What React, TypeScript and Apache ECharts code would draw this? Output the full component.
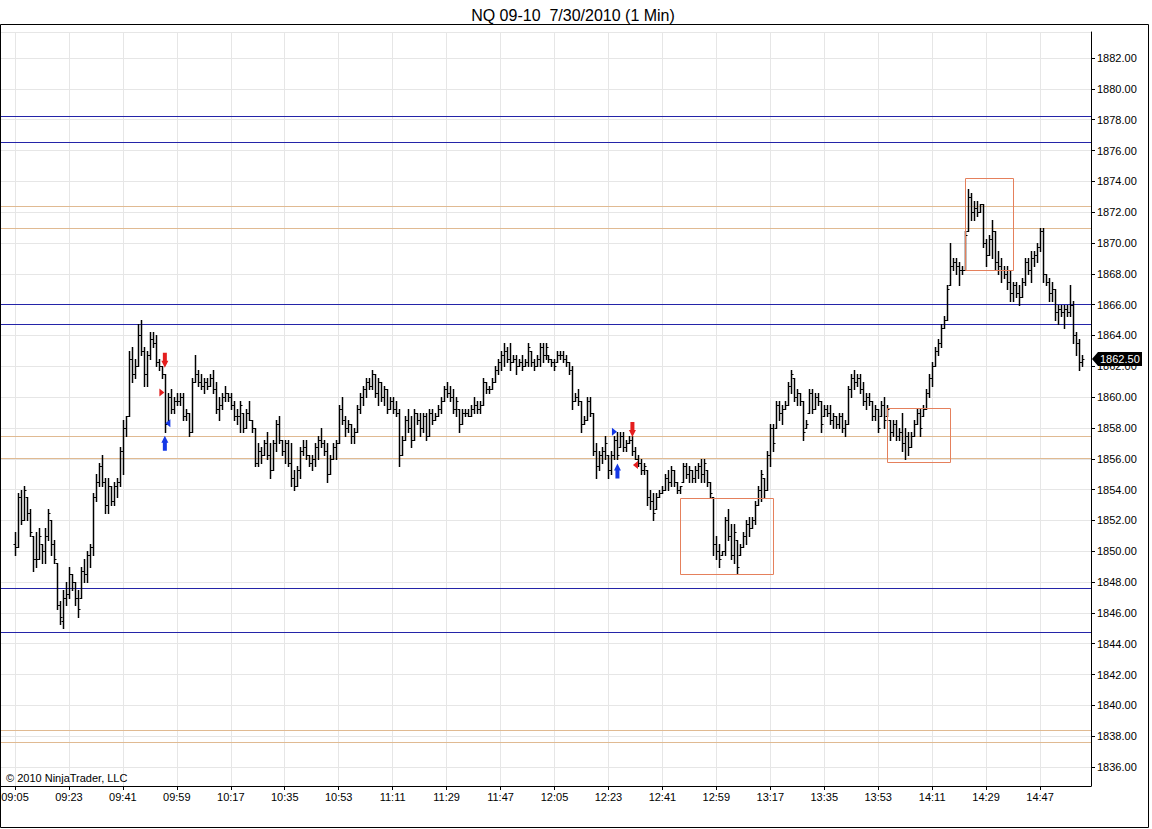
import React, { useEffect, useRef } from 'react';
import * as echarts from 'echarts';

const FONT = '"Liberation Sans", Arial, Helvetica, sans-serif';
const TITLE = 'NQ 09-10  7/30/2010 (1 Min)';
const COPYRIGHT = '\u00a9 2010 NinjaTrader, LLC';

// time axis (1-minute categories)
const AXIS_START_MIN = 9 * 60; // 09:00
const AXIS_COUNT = 365; // 09:00 .. 15:04
const FIRST_BAR = '09:05';
const tickLabels = [
  '09:05', '09:23', '09:41', '09:59', '10:17', '10:35', '10:53', '11:11', '11:29', '11:47',
  '12:05', '12:23', '12:41', '12:59', '13:17', '13:35', '13:53', '14:11', '14:29', '14:47',
];

// price axis range
const Y_MIN = 1834.77;
const Y_MAX = 1883.69;

// OHLC bars [open, high, low, close], one per minute
const bars09 = [
  [1850.5, 1851.25, 1849.75, 1850.25], [1850.25, 1853.75, 1850.25, 1853.5], [1853.5, 1854, 1851.75, 1852], [1852, 1854.25, 1852, 1854], [1853.5, 1853.5, 1852, 1852.5],
  [1852.5, 1852.75, 1851, 1851.25], [1851, 1851, 1848.75, 1849.5], [1849.5, 1851.25, 1849, 1849.5], [1849.5, 1851.5, 1849.5, 1851], [1850.5, 1850.5, 1849.25, 1850],
  [1850, 1851.5, 1849.25, 1851], [1851, 1852.75, 1850.75, 1852.5], [1852, 1852, 1849.75, 1850.5], [1850.5, 1850.75, 1849.25, 1849.5], [1849.25, 1849.25, 1846.25, 1846.5],
  [1846.5, 1846.75, 1845.25, 1845.75], [1845.5, 1847.5, 1845, 1847], [1847, 1848, 1846.5, 1847.25], [1847.25, 1849, 1847, 1848.5], [1848.5, 1848.5, 1847.5, 1848],
  [1848, 1848, 1846.5, 1847], [1847, 1847.5, 1845.75, 1846.25], [1847, 1849, 1847, 1848.75], [1848.75, 1849.5, 1848, 1848.5], [1848.5, 1850, 1848, 1849.75],
  [1849.75, 1850.5, 1849, 1850.25], [1850.25, 1853.75, 1849.75, 1853.5], [1853.5, 1855, 1853.25, 1854.5], [1854.5, 1855.75, 1854.25, 1855.5], [1855.5, 1856.25, 1854.25, 1854.5],
  [1854.5, 1854.75, 1852.5, 1853], [1853, 1854.75, 1852.5, 1854.25], [1854.25, 1854.25, 1853, 1853.25], [1853.25, 1854.5, 1853, 1854.25], [1854.25, 1854.75, 1853.5, 1854.5],
  [1854.5, 1856.75, 1854.25, 1856.5], [1856.5, 1858.5, 1855, 1858], [1858, 1858.75, 1857.5, 1858.75], [1858.75, 1863, 1858.75, 1862.5], [1862.5, 1863.25, 1861, 1861.5],
  [1861.5, 1862.5, 1861.25, 1862], [1862, 1864.75, 1862, 1864], [1864, 1865, 1862.75, 1863], [1863, 1863.25, 1860.75, 1861.5], [1861.5, 1863, 1860.75, 1862.75],
  [1862.75, 1864.25, 1862.5, 1863.75], [1863.75, 1864.25, 1863.25, 1863.5], [1863.5, 1864, 1862, 1862.25], [1862.25, 1862.5, 1861.75, 1862], [1862, 1862, 1861.25, 1861.5],
  [1861.5, 1861.5, 1857.75, 1858.25], [1858.25, 1860.25, 1858.25, 1860], [1860, 1860.5, 1859, 1859.25], [1859.25, 1860, 1859, 1859.75], [1859.75, 1860.25, 1859.5, 1859.75],
];
const bars10 = [
  [1859.75, 1860.25, 1859.5, 1860], [1860, 1860.25, 1858.5, 1858.75], [1858.75, 1859.25, 1858.5, 1859], [1859, 1859, 1857.5, 1857.75], [1857.75, 1861.25, 1857.75, 1861],
  [1861, 1862.75, 1861, 1861.5], [1861.5, 1861.75, 1860.75, 1861], [1861, 1861.5, 1860.5, 1860.75], [1860.75, 1861.25, 1860.25, 1861], [1861, 1861.25, 1860.5, 1860.75],
  [1860.75, 1861.5, 1860.75, 1861.25], [1861.25, 1861.75, 1860.25, 1860.5], [1860.5, 1861, 1859, 1859.25], [1859.25, 1860, 1858.5, 1859.5], [1859.5, 1860.25, 1859.25, 1860],
  [1860, 1860.75, 1859.75, 1860.25], [1860.25, 1860.25, 1859.75, 1860], [1860, 1860.25, 1859.25, 1859.5], [1859.5, 1859.75, 1858.5, 1858.75], [1858.75, 1859.25, 1858.25, 1858.75],
  [1858.75, 1859.75, 1857.75, 1859.5], [1859, 1859, 1857.75, 1858], [1858, 1859.25, 1858, 1859], [1859, 1859.75, 1858.5, 1858.5], [1858.5, 1858.5, 1857.75, 1858],
  [1858, 1858, 1855.5, 1855.75], [1855.75, 1857, 1855.5, 1856.5], [1856.5, 1856.75, 1855.75, 1856.25], [1856.25, 1857.25, 1856.25, 1857], [1857, 1857.75, 1856, 1856.25],
  [1856.25, 1857, 1854.75, 1855.25], [1855.25, 1857.25, 1855.25, 1857], [1857, 1858.5, 1856.5, 1858.25], [1858.25, 1858.75, 1857, 1857.25], [1857.25, 1857.25, 1856.25, 1856.5],
  [1856.5, 1857.25, 1855.75, 1857], [1857, 1857.25, 1855.5, 1855.75], [1855.75, 1857, 1854.25, 1854.75], [1854.75, 1855.25, 1854, 1854.25], [1854.25, 1855.5, 1854.25, 1855.25],
  [1855.25, 1856.75, 1854.75, 1856.5], [1856.5, 1857.25, 1856.25, 1856.75], [1856.75, 1857.25, 1856, 1856.25], [1856.25, 1856.25, 1855.5, 1855.75], [1855.75, 1856.25, 1855.25, 1856],
  [1856, 1857, 1855.5, 1856.75], [1856.75, 1857.5, 1856, 1857.25], [1857.25, 1858, 1856.75, 1857], [1857, 1857.25, 1856.25, 1856.5], [1856.5, 1857, 1854.5, 1855],
  [1855, 1856.25, 1855, 1856], [1856, 1857, 1856, 1856.75], [1856.75, 1857.25, 1856, 1857], [1857, 1859.5, 1857, 1859.25], [1859.25, 1860, 1858.25, 1858.5],
  [1858.5, 1858.75, 1857.5, 1858], [1858, 1858.5, 1857.75, 1858.25], [1858.25, 1858.25, 1857, 1857.5], [1857.5, 1858, 1857, 1857.75], [1857.75, 1859.5, 1857.75, 1859.25],
];
const bars11 = [
  [1859.25, 1860.25, 1859, 1860], [1860, 1860.75, 1859.5, 1860.5], [1860.5, 1861.25, 1860, 1861], [1861, 1861.25, 1860.5, 1860.75], [1860.75, 1861.75, 1860.5, 1861.5],
  [1861.5, 1861.5, 1860, 1860.25], [1860.25, 1861.25, 1859.5, 1861], [1861, 1861, 1859.75, 1860], [1860, 1860.75, 1859.5, 1860.5], [1860.5, 1860.5, 1859, 1859.25],
  [1859.25, 1860, 1859.25, 1859.75], [1859.75, 1860, 1859, 1859.25], [1859.25, 1859.75, 1858.75, 1859], [1859, 1859.25, 1855.5, 1856.25], [1856.25, 1857.5, 1856.25, 1857.25],
  [1857.25, 1858.75, 1857.25, 1858.5], [1858.5, 1859.25, 1857.75, 1858], [1858, 1858.75, 1856.75, 1857.25], [1857.25, 1859.25, 1857.25, 1859], [1859, 1859, 1858.25, 1858.5],
  [1858.5, 1859, 1857.5, 1858], [1858, 1859, 1857.75, 1858.75], [1858.75, 1859, 1857.25, 1857.5], [1857.5, 1859.25, 1857.5, 1859], [1859, 1859.25, 1858.25, 1858.5],
  [1858.5, 1859, 1858.5, 1858.75], [1858.75, 1859.5, 1858.75, 1859.25], [1859.25, 1860, 1859, 1859.75], [1859.75, 1860.75, 1859.75, 1860.5], [1860.5, 1861, 1860, 1860.25],
  [1860.25, 1860.75, 1859.75, 1860], [1860, 1860.5, 1859, 1859.25], [1859.25, 1860, 1858.75, 1859.75], [1859.25, 1859.25, 1857.75, 1858.25], [1858.25, 1859.25, 1858.25, 1859],
  [1859, 1859.25, 1858.75, 1859], [1859, 1859.25, 1858.75, 1858.75], [1858.75, 1859.5, 1858.75, 1859.25], [1859.25, 1860, 1859, 1859.5], [1859.5, 1859.75, 1859, 1859.25],
  [1859.25, 1859.75, 1859, 1859.5], [1859.5, 1861.25, 1859.5, 1861], [1861, 1861, 1860.25, 1860.5], [1860.5, 1860.75, 1860.25, 1860.5], [1860.5, 1861.25, 1860.5, 1861],
  [1861, 1862, 1861, 1861.75], [1861.75, 1862.5, 1861.5, 1862.25], [1862.25, 1863, 1861.75, 1862.75], [1862.75, 1863.5, 1862, 1863], [1863, 1863.25, 1862.25, 1862.5],
  [1862.5, 1863.5, 1861.75, 1862.25], [1862.25, 1862.75, 1862.25, 1862.5], [1862.5, 1862.75, 1861.5, 1862], [1862, 1862.5, 1862, 1862.25], [1862.25, 1862.75, 1861.75, 1862],
  [1862, 1862.5, 1862, 1862.25], [1862.25, 1863.5, 1862, 1863.25], [1863, 1863, 1862, 1862.25], [1862.25, 1862.5, 1861.75, 1862], [1862, 1862.75, 1862, 1862.5],
];
const bars12 = [
  [1862.5, 1863.5, 1862, 1863.25], [1863.25, 1863.5, 1862.25, 1862.75], [1862.75, 1863.5, 1862.5, 1863.25], [1862.75, 1862.75, 1862.25, 1862.5], [1862.5, 1862.5, 1862, 1862.25],
  [1862.25, 1862.5, 1861.75, 1862], [1862.25, 1863, 1862.25, 1862.75], [1862.75, 1863, 1862.5, 1862.75], [1862.75, 1863, 1862.25, 1862.5], [1862.5, 1862.75, 1862, 1862.25],
  [1862.25, 1862.25, 1861.5, 1861.75], [1861.75, 1862, 1859.25, 1859.75], [1859.75, 1860.25, 1859.75, 1860], [1860, 1860.5, 1859.5, 1859.75], [1859.75, 1859.75, 1857.75, 1858.25],
  [1858.25, 1858.75, 1858.25, 1858.5], [1858.5, 1860, 1858.5, 1859.75], [1859.75, 1860, 1858.75, 1859], [1859, 1859, 1856.25, 1856.5], [1856.5, 1857, 1854.75, 1855.5],
  [1855.5, 1856.5, 1855.25, 1856.25], [1856.25, 1856.75, 1855.75, 1856.5], [1856.5, 1857.5, 1856, 1857], [1856.25, 1856.25, 1854.75, 1855.25], [1855.25, 1856.5, 1855, 1856.25],
  [1856.25, 1857.5, 1856, 1857.25], [1857.25, 1857.75, 1856, 1856.25], [1856.75, 1857.75, 1856.75, 1857.5], [1857.5, 1857.75, 1856.5, 1856.75], [1856.75, 1857.25, 1856.5, 1857],
  [1857, 1857.5, 1857, 1857.25], [1857.25, 1857.5, 1856.25, 1856.5], [1856.5, 1856.75, 1856, 1856], [1856, 1856.25, 1855.5, 1855.75], [1855.75, 1856, 1855, 1855.25],
  [1855.25, 1855.75, 1855, 1855.5], [1855.25, 1855.25, 1853, 1853.5], [1853.5, 1854, 1852.75, 1853.25], [1853.25, 1853.75, 1852, 1852.5], [1852.75, 1853.75, 1852.75, 1853.5],
  [1853.5, 1854, 1853.5, 1853.75], [1853.75, 1854.25, 1853.75, 1854], [1854, 1855, 1854, 1854.75], [1854.75, 1855.25, 1854, 1854.5], [1854.5, 1855.5, 1854.25, 1855.25],
  [1855.25, 1855.25, 1854.25, 1854.5], [1854.5, 1854.5, 1853.75, 1854], [1854, 1854.25, 1853.75, 1854.25], [1854.5, 1855.75, 1854.5, 1855.5], [1855.5, 1855.75, 1854.75, 1855],
  [1855, 1855.5, 1854.5, 1855.25], [1855.25, 1855.25, 1854.5, 1854.75], [1854.75, 1855.5, 1854.5, 1855.25], [1855.25, 1855.75, 1854.75, 1855.5], [1855.5, 1856, 1854.5, 1855],
  [1855, 1856, 1854.5, 1855.75], [1855.25, 1855.25, 1854.25, 1854.5], [1854.5, 1854.5, 1853.5, 1853.75], [1853.5, 1853.5, 1849.75, 1850.5], [1850.5, 1851, 1849.5, 1850],
];
const bars13 = [
  [1850, 1850.5, 1849, 1849.5], [1849.75, 1850, 1849.75, 1850], [1850, 1852.25, 1849.75, 1852], [1852, 1852.75, 1850.75, 1851], [1851, 1851.75, 1849.5, 1849.75],
  [1849.75, 1851.75, 1849.25, 1851.25], [1850.75, 1850.75, 1848.5, 1849], [1849.75, 1850.5, 1849.75, 1850.25], [1850.25, 1851.25, 1850.25, 1851], [1851, 1852, 1850.5, 1851.75],
  [1851.75, 1852.25, 1851, 1851.5], [1851.5, 1852.25, 1851.5, 1852], [1852, 1853.25, 1851.75, 1853], [1853, 1854.25, 1853, 1854], [1854, 1855.25, 1853.25, 1855],
  [1854.75, 1854.75, 1853.5, 1854], [1854, 1856.5, 1854, 1856.25], [1856.25, 1858.25, 1855.5, 1858], [1858, 1858.25, 1856.5, 1857], [1858, 1859.75, 1858, 1859.5],
  [1859.5, 1859.75, 1858.5, 1859], [1859, 1859.5, 1858.25, 1859.25], [1859.25, 1859.75, 1859.25, 1859.5], [1859.5, 1861, 1859.5, 1860.75], [1860.75, 1861.75, 1860.25, 1861.5],
  [1861.25, 1861.25, 1859.75, 1860], [1860, 1860.5, 1859.5, 1860.25], [1860.25, 1860.25, 1859.5, 1859.75], [1859.75, 1859.75, 1857.25, 1857.75], [1858, 1858.5, 1858, 1858.25],
  [1859, 1860.5, 1859, 1860.25], [1860.25, 1860.5, 1859, 1859.25], [1859.25, 1860.25, 1859.25, 1860], [1860, 1860.25, 1859.5, 1859.75], [1859.75, 1859.75, 1857.75, 1858.25],
  [1858.75, 1859.5, 1858.75, 1859.25], [1859.25, 1859.5, 1858.75, 1859], [1859, 1859.5, 1858.25, 1858.5], [1858.5, 1859, 1858, 1858.75], [1858.75, 1858.75, 1858, 1858.25],
  [1858.25, 1859, 1858, 1858.75], [1858.75, 1859, 1857.75, 1858], [1858, 1858.5, 1857.5, 1858.25], [1858.25, 1860.75, 1858.25, 1860.5], [1860.5, 1861.5, 1860, 1861.25],
  [1861.25, 1861.75, 1860.5, 1861], [1861, 1861.5, 1860.75, 1861.25], [1861.25, 1861.5, 1860.25, 1860.5], [1860.5, 1861, 1859.5, 1859.75], [1859.75, 1860.25, 1859.25, 1860],
  [1860, 1860.25, 1859.5, 1859.75], [1859.75, 1859.75, 1858.5, 1858.75], [1858.75, 1859.5, 1858.5, 1859.25], [1859.25, 1859.25, 1857.75, 1858], [1858.75, 1859.75, 1858.75, 1859.5],
  [1859.5, 1860, 1858, 1858.5], [1858.75, 1859.5, 1858.75, 1859.25], [1858.5, 1858.5, 1857.25, 1857.75], [1857.75, 1858.5, 1857.5, 1858.25], [1858.25, 1858.5, 1857.25, 1857.5],
];
const bars14 = [
  [1857.5, 1858, 1857.25, 1857.75], [1857.75, 1859, 1856.5, 1857], [1857, 1858, 1856, 1857.5], [1857.5, 1857.75, 1856.25, 1856.75], [1856.75, 1857.75, 1856.75, 1857.5],
  [1857.5, 1858.5, 1857.5, 1858.25], [1858.25, 1859.25, 1858.25, 1859], [1859, 1859.25, 1857.5, 1858], [1858.75, 1859.5, 1858.75, 1859.25], [1859.25, 1860.5, 1859.25, 1860.25],
  [1860.25, 1861.5, 1860, 1861.25], [1861.25, 1862.25, 1860.75, 1862], [1862, 1863.25, 1862, 1863], [1863, 1863.75, 1862.75, 1863.5], [1863.5, 1864.75, 1863.25, 1864.5],
  [1864.5, 1865.25, 1864.5, 1865], [1865, 1867.25, 1865, 1867], [1867.25, 1870, 1867.25, 1868.5], [1868.5, 1869, 1868.25, 1868.75], [1868.75, 1869, 1868, 1868.5],
  [1868.5, 1868.75, 1867.25, 1868.25], [1868.25, 1868.5, 1868, 1868.25], [1868.25, 1870.75, 1868.25, 1870.5], [1870.75, 1873.5, 1870.75, 1873], [1873, 1873.25, 1871.5, 1872],
  [1872, 1872.75, 1871.5, 1872.25], [1872.25, 1872.75, 1871.75, 1872], [1872, 1872.5, 1872, 1872.5], [1872.5, 1872.5, 1869.75, 1870], [1870, 1870.25, 1868.5, 1869.25],
  [1869.25, 1870.5, 1869.25, 1870.25], [1870.25, 1871.5, 1869, 1870.75], [1870.75, 1870.75, 1868.25, 1868.75], [1868.75, 1869.5, 1868, 1868.5], [1868.5, 1869, 1867.5, 1868.25],
  [1868.25, 1868.5, 1867.75, 1868], [1868, 1868.5, 1867, 1867.5], [1867.5, 1868.25, 1866.25, 1866.75], [1866.75, 1867.5, 1866.25, 1867.25], [1867.25, 1867.5, 1866.5, 1866.75],
  [1866.75, 1867.25, 1866, 1866.5], [1866.5, 1867.75, 1866.5, 1867.5], [1867.5, 1869, 1867.25, 1868.75], [1868.75, 1869, 1868, 1868.25], [1868.25, 1869.5, 1867.5, 1869],
  [1869, 1869.5, 1868.5, 1869.25], [1869.25, 1870, 1868.75, 1869.75], [1869.75, 1871, 1869.5, 1870.75], [1870.75, 1871, 1867.5, 1868], [1868, 1868, 1867.25, 1867.5],
  [1867.5, 1867.75, 1866.25, 1866.75], [1866.75, 1867.5, 1866.25, 1867], [1867, 1867, 1865, 1865.5], [1865.5, 1866, 1864.75, 1865.75], [1865.75, 1866, 1865.25, 1865.5],
  [1865.5, 1866, 1864.5, 1865.75], [1865.75, 1866, 1865.25, 1865.5], [1865.5, 1867.25, 1865.25, 1866], [1866, 1866.25, 1863.5, 1864], [1864, 1864.25, 1862.75, 1863.5],
];
const bars15 = [
  [1863.5, 1863.75, 1861.75, 1862.25], [1862.25, 1862.75, 1862, 1862.5],
];

// horizontal price levels
const blueLevels = [1878.17, 1876.55, 1865.95, 1864.67, 1847.59, 1844.68];
const orangeLevels = [1872.31, 1870.88, 1857.39, 1855.96, 1838.4, 1837.56];

// drawn boxes (time from/to, price top/bottom)
const zones = [
  { from: '12:47', to: '13:18', top: 1853.45, bottom: 1848.45 },
  { from: '13:56', to: '14:17', top: 1859.2, bottom: 1855.8 },
  { from: '14:22', to: '14:38', top: 1874.2, bottom: 1868.25 },
];

// execution markers [time, price]
const sellArrows = [['09:55', 1862.4], ['12:31', 1857.9]];
const buyArrows = [['09:55', 1857.0], ['12:26', 1855.2]];
const redRightTriangles = [['09:54', 1860.3]];
const blueRightTriangles = [['12:25', 1857.75]];
const blueLeftTriangles = [['09:56', 1858.3]];
const redLeftTriangles = [['12:32', 1855.6]];

const BLUE = '#2424a8';
const ORANGE = '#e0ba92';
const ZONE = '#e5805c';
const RED = '#e41e1e';
const BRIGHT_BLUE = '#1438e6';
const GRID = '#e6e6e6';

const pad = (n: number) => (n < 10 ? '0' + n : '' + n);
const categories: string[] = [];
for (let m = 0; m < AXIS_COUNT; m++) {
  const t = AXIS_START_MIN + m;
  categories.push(pad(Math.floor(t / 60)) + ':' + pad(t % 60));
}
const tickSet = new Set(tickLabels);
const isTick = (_i: number, v: string) => tickSet.has(v);

const allBars = [...bars09, ...bars10, ...bars11, ...bars12, ...bars13, ...bars14, ...bars15];

const ARROW_DOWN = 'path://M1.5,0 L5.5,0 L5.5,8 L7,8 L3.5,15 L0,8 L1.5,8 Z';
const ARROW_UP = 'path://M3.5,0 L7,7 L5.5,7 L5.5,15 L1.5,15 L1.5,7 L0,7 Z';
const TRI_RIGHT = 'path://M0,0 L5,4 L0,8 Z';
const TRI_LEFT = 'path://M5,0 L0,4 L5,8 Z';

const crisp = (v: number) => Math.round(v) + 0.5;
// thin coloured rules: keep them on an even pixel row so their hue survives image compression
const crispEven = (v: number) => 2 * Math.round((v - 0.5) / 2) + 0.5;

const levelSeries = (levels: number[], color: string) => ({
  type: 'custom',
  data: levels.map((v) => [0, v]),
  encode: { x: 0, y: 1 },
  silent: true,
  z: 2,
  renderItem: (params: any, api: any) => {
    const y = crispEven(api.coord([0, api.value(1)])[1]);
    const cs = params.coordSys;
    return {
      type: 'line',
      shape: { x1: cs.x, y1: y, x2: cs.x + cs.width, y2: y },
      style: { stroke: color, lineWidth: 1 },
    };
  },
});

const markerSeries = (data: any[], symbol: string, size: number[], color: string) => ({
  type: 'scatter',
  data,
  symbol,
  symbolSize: size,
  itemStyle: { color, opacity: 1 },
  silent: true,
  z: 6,
});

export default function App() {
  const ref = useRef<HTMLDivElement>(null);

  useEffect(() => {
    if (!ref.current) return;
    const chart = echarts.init(ref.current, undefined, { renderer: 'svg' });
    const start = categories.indexOf(FIRST_BAR);
    const ohlcData = allBars.map((b, k) => [start + k, b[0], b[1], b[2], b[3]]);
    const zoneData = zones.map((z) => [categories.indexOf(z.from), z.top, categories.indexOf(z.to), z.bottom]);

    const option: any = {
      animation: false,
      backgroundColor: '#ffffff',
      textStyle: { fontFamily: FONT },
      title: {
        text: TITLE,
        left: 568,
        top: 2,
        textAlign: 'center',
        textStyle: { fontSize: 16, fontWeight: 'normal', color: '#000', fontFamily: FONT },
      },
      grid: { left: 0, right: 61, top: 32, bottom: 43, containLabel: false, outerBoundsMode: 'none' },
      xAxis: {
        type: 'category',
        data: categories,
        boundaryGap: false,
        axisLine: { show: true, lineStyle: { color: '#000', width: 1 } },
        axisTick: { show: true, interval: isTick, length: 4, lineStyle: { color: '#000' } },
        axisLabel: { show: true, interval: isTick, color: '#000', fontSize: 11, fontFamily: FONT, margin: 5 },
        splitLine: { show: true, interval: isTick, lineStyle: { color: GRID, width: 1 } },
      },
      yAxis: {
        type: 'value',
        position: 'right',
        min: Y_MIN,
        max: Y_MAX,
        splitNumber: 25,
        axisLine: { show: true, lineStyle: { color: '#000', width: 1 } },
        axisTick: { show: true, length: 4, inside: false, lineStyle: { color: '#000' } },
        axisLabel: {
          show: true,
          formatter: (v: number) => v.toFixed(2),
          showMinLabel: false,
          showMaxLabel: false,
          color: '#000',
          fontSize: 11,
          fontFamily: FONT,
          margin: 6,
        },
        splitLine: { show: true, lineStyle: { color: GRID, width: 1 } },
      },
      series: [
        levelSeries(orangeLevels, ORANGE),
        levelSeries(blueLevels, BLUE),
        {
          type: 'custom',
          data: ohlcData,
          encode: { x: 0, y: [1, 2, 3, 4] },
          silent: true,
          z: 3,
          renderItem: (_p: any, api: any) => {
            const i = api.value(0);
            const pH = api.coord([i, api.value(2)]);
            const pL = api.coord([i, api.value(3)]);
            const pO = api.coord([i, api.value(1)]);
            const pC = api.coord([i, api.value(4)]);
            const x = crisp(pH[0]);
            const yo = crisp(pO[1]);
            const yc = crisp(pC[1]);
            return {
              type: 'group',
              children: [
                { type: 'line', shape: { x1: x, y1: Math.round(pH[1]), x2: x, y2: Math.round(pL[1]) + 1 }, style: { stroke: '#000', lineWidth: 1.5 } },
                { type: 'line', shape: { x1: x - 2, y1: yo, x2: x, y2: yo }, style: { stroke: '#000', lineWidth: 1 } },
                { type: 'line', shape: { x1: x, y1: yc, x2: x + 2, y2: yc }, style: { stroke: '#000', lineWidth: 1 } },
              ],
            };
          },
        },
        {
          type: 'custom',
          data: zoneData,
          encode: { x: [0, 2], y: [1, 3] },
          silent: true,
          z: 4,
          renderItem: (_p: any, api: any) => {
            const p1 = api.coord([api.value(0), api.value(1)]);
            const p2 = api.coord([api.value(2), api.value(3)]);
            const x1 = crisp(p1[0]);
            const y1 = crispEven(p1[1]);
            const x2 = crisp(p2[0]);
            const y2 = crispEven(p2[1]);
            return {
              type: 'rect',
              shape: { x: x1, y: y1, width: x2 - x1, height: y2 - y1 },
              style: { fill: 'none', stroke: ZONE, lineWidth: 1 },
            };
          },
        },
        markerSeries(sellArrows, ARROW_DOWN, [7, 15], RED),
        markerSeries(buyArrows, ARROW_UP, [7, 15], BRIGHT_BLUE),
        markerSeries(redRightTriangles, TRI_RIGHT, [5, 8], RED),
        markerSeries(blueRightTriangles, TRI_RIGHT, [5, 8], BRIGHT_BLUE),
        markerSeries(blueLeftTriangles, TRI_LEFT, [5, 8], BRIGHT_BLUE),
        markerSeries(redLeftTriangles, TRI_LEFT, [5, 8], RED),
      ],
    };

    chart.setOption(option);

    const lastClose = allBars[allBars.length - 1][3];
    const py = Math.round(chart.convertToPixel({ yAxisIndex: 0 }, lastClose) as number);
    const ax = Math.round(chart.convertToPixel({ xAxisIndex: 0 }, categories[categories.length - 1]) as number);

    chart.setOption({
      graphic: [
        {
          type: 'rect',
          silent: true,
          z: 100,
          shape: { x: 0.5, y: 24.5, width: 1148, height: 803 },
          style: { fill: 'none', stroke: '#000', lineWidth: 1 },
        },
        {
          type: 'text',
          silent: true,
          z: 100,
          x: 6,
          y: 778,
          style: { text: COPYRIGHT, fill: '#000', font: '11px ' + FONT, verticalAlign: 'middle' },
        },
        {
          type: 'polygon',
          silent: true,
          z: 100,
          shape: {
            points: [
              [ax + 1, py],
              [ax + 7, py - 7],
              [ax + 51, py - 7],
              [ax + 51, py + 7],
              [ax + 7, py + 7],
            ],
          },
          style: { fill: '#000' },
        },
        {
          type: 'text',
          silent: true,
          z: 101,
          x: ax + 9,
          y: py,
          style: { text: lastClose.toFixed(2), fill: '#fff', font: '11px ' + FONT, verticalAlign: 'middle' },
        },
      ],
    });

    return () => {
      chart.dispose();
    };
  }, []);

  return (
    <div
      ref={ref}
      style={{ position: 'absolute', left: 0, top: 0, width: 1152, height: 829, background: '#fff' }}
    />
  );
}
